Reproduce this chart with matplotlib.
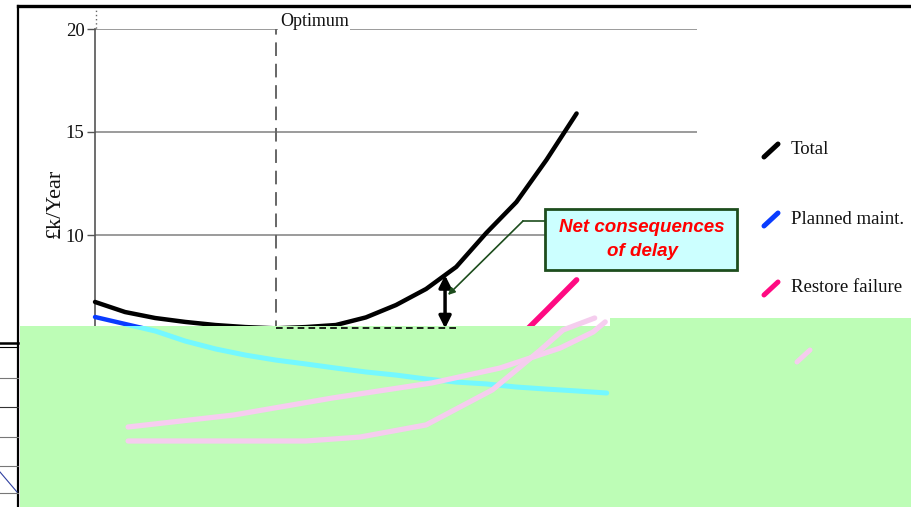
import matplotlib
matplotlib.use("Agg")
import matplotlib.pyplot as plt
import matplotlib.transforms as mtransforms
from matplotlib.patches import Polygon, Rectangle
from matplotlib.lines import Line2D

# ---- data -------------------------------------------------------------
years = list(range(17))
total = [6.75, 6.26, 5.97, 5.78, 5.63, 5.53, 5.47, 5.53, 5.63, 6.0,
         6.6, 7.38, 8.45, 10.1, 11.6, 13.65, 15.9]

planned_years = list(range(18))
planned = [6.02, 5.68, 5.34, 4.85, 4.47, 4.17, 3.93, 3.74, 3.54, 3.35,
           3.20, 3.01, 2.86, 2.77, 2.62, 2.52, 2.43, 2.33]

restore_years = [14, 15, 16]
restore = [4.9, 6.35, 7.82]

pale_upper_years = [1.1, 4.6, 7.9, 11.2, 13.45, 15.45, 16.55, 16.95]
pale_upper = [0.68, 1.26, 2.09, 2.82, 3.54, 4.51, 5.29, 5.78]
pale_lower_years = [1.1, 7.0, 8.8, 11.0, 13.2, 14.8, 15.55, 16.6]
pale_lower = [0.0, 0.0, 0.19, 0.78, 2.48, 4.42, 5.39, 5.97]

optimum_year = 6
delay_year = 11.63
y_ticks = [10, 15, 20]
legend_labels = ["Total", "Planned maint.", "Restore failure"]
legend_colors = ["black", "#0a3cff", "#ff0a82"]

# ---- figure -----------------------------------------------------------
W, H = 912, 507
fig = plt.figure(figsize=(W / 100, H / 100), dpi=100, facecolor="white")
px = mtransforms.Affine2D().scale(1 / W, -1 / H).translate(0, 1) + fig.transFigure

ax = fig.add_axes([95 / W, (H - 441) / H, (697 - 95) / W, (441 - 29) / H])
ax.set_xlim(0, 20)
ax.set_ylim(0, 20)
ax.patch.set_visible(False)
for side in ("top", "right", "bottom"):
    ax.spines[side].set_visible(False)
ax.spines["left"].set_color("#555555")
ax.spines["left"].set_linewidth(1.2)
ax.set_xticks([])
ax.set_yticks(y_ticks)
ax.tick_params(axis="y", direction="out", length=6, width=1, color="#555555",
               pad=1.5, labelsize=13.5, labelcolor="#111111")
for lab in ax.get_yticklabels():
    lab.set_fontfamily("Liberation Serif")
ax.grid(axis="y", color="#808080", lw=1.1, zorder=0)
ax.set_axisbelow(True)

serif = "Liberation Serif"

# dotted extension of the value axis above the plot
ax.add_line(Line2D([96, 96], [6, 29], transform=px, color="#666666", lw=1,
                   ls=(0, (1, 2)), clip_on=False))

# optimum marker
ax.axvline(optimum_year, color="#666666", lw=1.4, ls=(0, (7, 4)), zorder=1)
ax.text(optimum_year, 20, "Optimum",
        transform=mtransforms.offset_copy(ax.transData, fig, x=3, y=2.5, units="points"),
        ha="left", va="baseline", fontsize=13, family=serif, zorder=3,
        color="#111111", bbox=dict(facecolor="white", edgecolor="none", pad=1.2))

ax.set_ylabel("£k/Year", family=serif, fontsize=16, color="#111111")
ax.yaxis.set_label_coords(65, 203, transform=px)

# curves
ax.plot(years, total, color="black", lw=3.2, solid_capstyle="round",
        solid_joinstyle="round", zorder=4, clip_on=False)
ax.plot(planned_years, planned, color="#0a3cff", lw=3.2,
        solid_capstyle="round", zorder=4, clip_on=False)
ax.plot(restore_years, restore, color="#ff0a82", lw=4,
        solid_capstyle="round", zorder=4, clip_on=False)

# pale green panel covering the lower part
panel_outline = [(20, 326), (610, 326), (610, 318), (912, 318), (912, 507), (20, 507)]
panel = Polygon(panel_outline, closed=True, transform=px, facecolor="#bdfdb6",
                edgecolor="none", zorder=6, clip_on=False)
ax.add_patch(panel)

# faded traces seen through the panel
clip_panel = Polygon(panel_outline, closed=True, transform=px)
faded_planned, = ax.plot(planned_years, planned, color="#74f8ff", lw=3.6,
                         solid_capstyle="round", zorder=7)
faded_planned.set_clip_path(clip_panel)
ax.plot(pale_upper_years, pale_upper, color="#f7cdf0", lw=3.8,
        solid_capstyle="round", zorder=7, clip_on=False)
ax.plot(pale_lower_years, pale_lower, color="#f5cdee", lw=3.8,
        solid_capstyle="round", zorder=7, clip_on=False)

# optimum cost level and the delay gap
ax.plot([optimum_year, 12.03], [min(total), min(total)], color="black", lw=1.2,
        ls=(0, (4, 2.5)), zorder=8, clip_on=False)
ax.annotate("", xy=(delay_year, 8.05), xytext=(delay_year, min(total)),
            arrowprops=dict(arrowstyle="<|-|>", color="black", lw=2.5,
                            mutation_scale=18, shrinkA=0, shrinkB=0),
            zorder=9, annotation_clip=False)

# callout
ax.add_patch(Rectangle((545, 209), 192, 61, transform=px, facecolor="#ccffff",
                       edgecolor="#1d4d1d", lw=2, zorder=9, clip_on=False))
ax.text(642, 228, "Net consequences", transform=px, ha="center", va="center",
        color="#ff0000", fontsize=13.5, fontweight="bold", fontstyle="italic",
        family="Liberation Sans", zorder=10)
ax.text(642, 251, "of delay", transform=px, ha="center", va="center",
        color="#ff0000", fontsize=13.5, fontweight="bold", fontstyle="italic",
        family="Liberation Sans", zorder=10)
ax.add_line(Line2D([545, 523], [221, 221], transform=px, color="#1d4d1d", lw=1.2,
                   zorder=9, clip_on=False))
ax.annotate("", xy=(448, 295), xycoords=px, xytext=(523, 221), textcoords=px,
            arrowprops=dict(arrowstyle="-|>", color="#1d4d1d", lw=1.2,
                            mutation_scale=10, shrinkA=0, shrinkB=0),
            zorder=9, annotation_clip=False)

# legend
for i, (lab, col) in enumerate(zip(legend_labels, legend_colors)):
    yc = 150 + 69 * i
    ax.add_line(Line2D([764, 778], [yc + 7, yc - 6], transform=px, color=col,
                       lw=3.6, solid_capstyle="round", clip_on=False, zorder=5))
    ax.text(791, yc, lab, transform=px, ha="left", va="center", fontsize=13.5,
            family=serif, color="#111111", zorder=5)
ax.add_line(Line2D([797, 810], [362, 350], transform=px, color="#f5cdee", lw=3.6,
                   solid_capstyle="round", clip_on=False, zorder=7))

# page frame and the neighbouring table edge
ax.add_line(Line2D([18, 912], [6, 6], transform=px, color="black", lw=2.4,
                   clip_on=False, zorder=10))
ax.add_line(Line2D([18, 18], [6, 507], transform=px, color="black", lw=1.6,
                   clip_on=False, zorder=10))
ax.add_line(Line2D([0, 18], [342.5, 342.5], transform=px, color="black", lw=1.8,
                   clip_on=False, zorder=10))
ax.add_line(Line2D([0, 18], [346.5, 346.5], transform=px, color="black", lw=0.8,
                   clip_on=False, zorder=10))
for yy, cc in [(378, "#777777"), (407, "#333333"), (437, "#777777"),
               (466, "#777777"), (493, "#777777")]:
    ax.add_line(Line2D([0, 18], [yy, yy], transform=px, color=cc, lw=0.8,
                       clip_on=False, zorder=10))
ax.add_line(Line2D([0, 17], [472, 492], transform=px, color="#3040a0", lw=0.8,
                   clip_on=False, zorder=10))

fig.savefig("out.png", dpi=100, facecolor="white")
